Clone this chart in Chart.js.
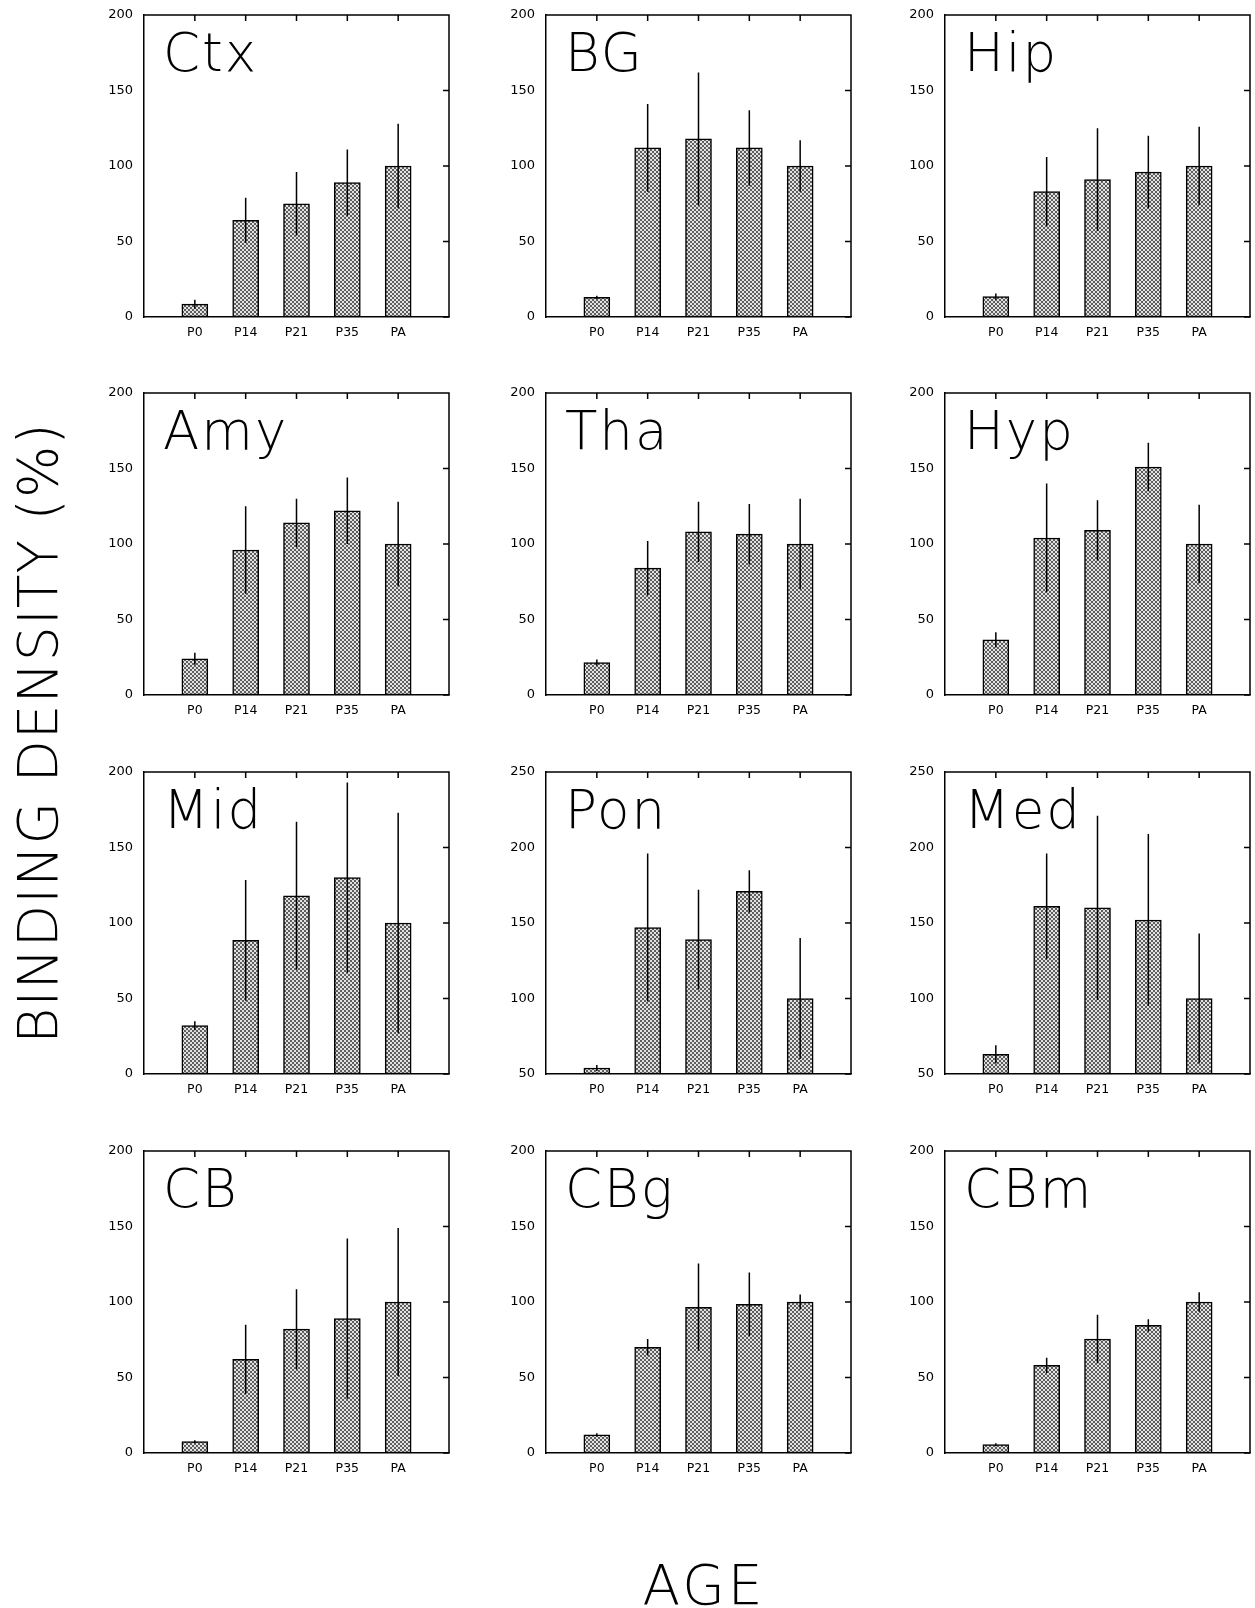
<!DOCTYPE html>
<html>
<head>
<meta charset="utf-8">
<script src="https://cdn.jsdelivr.net/npm/chart.js@4.4.0/dist/chart.umd.min.js"></script>
<style>
body { margin:0; background:#fff; width:1255px; height:1608px; position:relative; overflow:hidden; font-family:"DejaVu Sans", sans-serif; color:#000; }
canvas { position:absolute; }
#ylab { position:absolute; left:38px; top:733px; transform:translate(-50%,-50%) rotate(-90deg); font-size:55px; font-weight:200; letter-spacing:1px; white-space:nowrap; }
#xlab { position:absolute; left:704px; top:1585px; transform:translate(-50%,-50%); font-size:55px; font-weight:200; letter-spacing:3px; white-space:nowrap; }
</style>
</head>
<body>
<div id="ylab">BINDING DENSITY (%)</div>
<div id="xlab">AGE</div>
<script>
// categories on every x axis
const categories = ["P0", "P14", "P21", "P35", "PA"];

// panel names, row by row
const regions = ["Ctx", "BG", "Hip", "Amy", "Tha", "Hyp", "Mid", "Pon", "Med", "CB", "CBg", "CBm"];

// mean binding density (%) per region
const meanCtx = [8.5, 64, 75, 89, 100];
const meanBG  = [13, 112, 118, 112, 100];
const meanHip = [13.5, 83, 91, 96, 100];
const meanAmy = [24, 96, 114, 122, 100];
const meanTha = [21.5, 84, 108, 106.5, 100];
const meanHyp = [36.5, 104, 109, 151, 100];
const meanMid = [32, 88.5, 118, 130, 100];
const meanPon = [54, 147, 139, 171, 100];
const meanMed = [63, 161, 160, 152, 100];
const meanCB  = [7.5, 62, 82, 89, 100];
const meanCBg = [12, 70, 96.5, 98.5, 100];
const meanCBm = [5.5, 58, 75.5, 84.5, 100];

// error (+/-) per region
const errCtx = [3, 15, 21, 22, 28];
const errBG  = [1, 29, 44, 25, 17];
const errHip = [2, 23, 34, 24, 26];
const errAmy = [4, 29, 16, 22, 28];
const errTha = [2, 18, 20, 20, 30];
const errHyp = [5, 36, 20, 16, 26];
const errMid = [3, 40, 49, 63, 73];
const errPon = [2, 49, 33, 14, 40];
const errMed = [6, 35, 61, 57, 43];
const errCB  = [1, 23, 26.5, 53, 49];
const errCBg = [1, 5.5, 29, 21, 5];
const errCBm = [1, 5, 16, 4, 6.5];

// y axis ranges per panel
const yMin = [0, 0, 0, 0, 0, 0, 0, 50, 50, 0, 0, 0];
const yMax = [200, 200, 200, 200, 200, 200, 200, 250, 250, 200, 200, 200];

const means = [meanCtx, meanBG, meanHip, meanAmy, meanTha, meanHyp, meanMid, meanPon, meanMed, meanCB, meanCBg, meanCBm];
const errs = [errCtx, errBG, errHip, errAmy, errTha, errHyp, errMid, errPon, errMed, errCB, errCBg, errCBm];

// page layout of the panels
const colLeft = [144, 546, 945];
const rowTop = [15, 393, 772, 1151];
const plotW = 305, plotH = 302;
const padL = 70, padR = 12, padT = 12, padB = 35;

// stippled fill for the bars
const tile = document.createElement("canvas");
tile.width = 4; tile.height = 4;
const tctx = tile.getContext("2d");
tctx.fillStyle = "#e2e2e2";
tctx.fillRect(0, 0, 4, 4);
tctx.fillStyle = "#5e5e5e";
tctx.fillRect(0, 0, 2, 2);
tctx.fillRect(2, 2, 2, 2);
const stipple = tctx.createPattern(tile, "repeat");

// frame, inner ticks, error bars and panel name
const panelPlugin = {
  id: "panel",
  afterDatasetsDraw(chart, args, opts) {
    const ctx = chart.ctx;
    const a = chart.chartArea;
    const x = chart.scales.x;
    const y = chart.scales.y;

    ctx.save();
    ctx.strokeStyle = "#000";
    ctx.lineWidth = 1.5;

    ctx.beginPath();
    ctx.moveTo(a.left, a.top);
    ctx.lineTo(a.right, a.top);
    ctx.lineTo(a.right, a.bottom);

    categories.forEach((c, i) => {
      const px = x.getPixelForValue(i + 1);
      ctx.moveTo(px, a.top);
      ctx.lineTo(px, a.top + 6);
    });

    y.ticks.forEach((t) => {
      const py = y.getPixelForValue(t.value);
      ctx.moveTo(a.right, py);
      ctx.lineTo(a.right - 6, py);
    });
    ctx.stroke();

    ctx.beginPath();
    opts.mean.forEach((m, i) => {
      const px = x.getPixelForValue(i + 1);
      ctx.moveTo(px, y.getPixelForValue(m - opts.err[i]));
      ctx.lineTo(px, y.getPixelForValue(m + opts.err[i]));
    });
    ctx.stroke();

    ctx.fillStyle = "#000";
    ctx.font = '200 53px "DejaVu Sans"';
    ctx.letterSpacing = "2px";
    ctx.textBaseline = "alphabetic";
    ctx.fillText(opts.title, a.left + 19, a.top + 56);
    ctx.restore();
  }
};

regions.forEach((name, k) => {
  const col = k % 3;
  const row = Math.floor(k / 3);

  const canvas = document.createElement("canvas");
  canvas.width = padL + plotW + padR;
  canvas.height = padT + plotH + padB;
  canvas.style.left = (colLeft[col] - padL) + "px";
  canvas.style.top = (rowTop[row] - padT) + "px";
  document.body.appendChild(canvas);

  new Chart(canvas.getContext("2d"), {
    type: "bar",
    data: {
      labels: ["", ...categories, ""],
      datasets: [{
        data: [null, ...means[k], null],
        base: yMin[k],
        backgroundColor: stipple,
        borderColor: "#000",
        borderWidth: 1.5,
        borderSkipped: false,
        barThickness: 26
      }]
    },
    options: {
      responsive: false,
      animation: false,
      events: [],
      layout: { padding: { left: 0, right: padR, top: padT, bottom: 5 } },
      plugins: {
        legend: { display: false },
        tooltip: { enabled: false },
        panel: { title: name, mean: means[k], err: errs[k] }
      },
      scales: {
        x: {
          offset: false,
          grid: { display: false, drawTicks: false },
          border: { display: true, color: "#000", width: 1.5 },
          ticks: { color: "#000", padding: 8, maxRotation: 0, autoSkip: false, font: { family: "DejaVu Sans", size: 12.5 } },
          afterFit: (s) => { s.height = 30; s.paddingLeft = 0; s.paddingRight = 0; }
        },
        y: {
          min: yMin[k],
          max: yMax[k],
          grid: { display: false, drawTicks: false },
          border: { display: true, color: "#000", width: 1.5 },
          ticks: { stepSize: 50, color: "#000", padding: 11, font: { family: "DejaVu Sans", size: 13 } },
          afterFit: (s) => { s.width = padL; s.paddingTop = 0; s.paddingBottom = 0; }
        }
      }
    },
    plugins: [panelPlugin]
  });
});
</script>
</body>
</html>
